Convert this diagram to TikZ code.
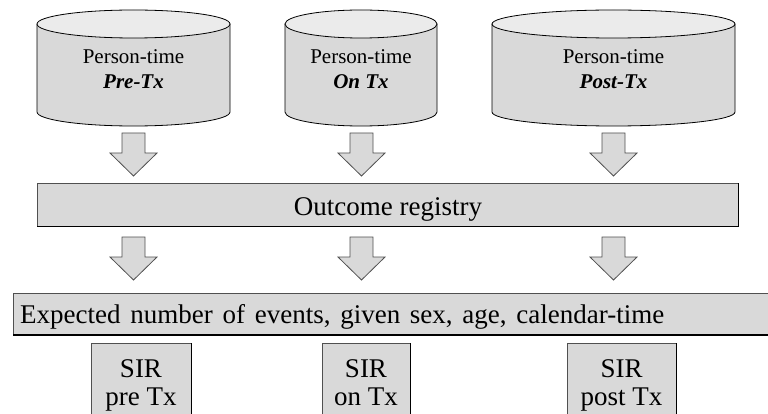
\documentclass[tikz,border=0pt]{standalone}
\usepackage{fontspec}
\setmainfont{Liberation Serif}
\definecolor{boxfill}{HTML}{D9D9D9}
\definecolor{topfill}{HTML}{EBEBEB}
\definecolor{edgegray}{HTML}{505050}
\tikzset{
  smalltxt/.style={inner sep=0pt, anchor=base, font=\fontsize{21}{24}\selectfont},
  bigtxt/.style={inner sep=0pt, anchor=base, font=\fontsize{27}{30}\selectfont},
  shapeline/.style={draw=black, line width=0.8pt, line join=round},
  arrowshape/.style={fill=boxfill, draw=edgegray, line width=0.8pt, line join=miter},
  boxshape/.style={fill=boxfill, draw=edgegray, line width=0.8pt},
}
\begin{document}
\begin{tikzpicture}[x=1pt,y=-1pt]
\useasboundingbox (0,0) rectangle (768,414);
\clip (0,0) rectangle (768,414);
\fill[white] (0,0) rectangle (768,414);

% cylinders
\foreach \cx/\rx/\nm/\lab in {133.5/96.5/pre/Pre-Tx, 361/76/on/On Tx, 613.5/121.5/post/Post-Tx}{
  \filldraw[fill=boxfill, shapeline] (\cx-\rx,24) -- (\cx-\rx,112)
     arc[start angle=180, end angle=360, x radius=\rx pt, y radius=14pt]
     -- (\cx+\rx,24) -- cycle;
  \filldraw[fill=topfill, shapeline] (\cx,24) ellipse[x radius=\rx pt, y radius=14pt];
  \node[smalltxt] (cyl\nm a) at (\cx,64) {Person-time};
  \node[smalltxt] (cyl\nm b) at (\cx,89) {\textbf{\textit{\lab}}};
}

% block arrows
\foreach \x in {133.5,361.5,613.5}{
  \foreach \t in {133,237}{
    \filldraw[arrowshape] (\x-11.5,\t) -- (\x+11.5,\t) -- (\x+11.5,\t+20)
      -- (\x+23.5,\t+20) -- (\x,\t+43) -- (\x-23.5,\t+20) -- (\x-11.5,\t+20) -- cycle;
  }
}

% outcome registry
\filldraw[boxshape] (37,183) rectangle (738,226);
\draw[black, line width=1pt] (37,226) -- (738,226) -- (738,183);
\node[bigtxt] (outcome) at (388,215) {Outcome registry};

% expected
\filldraw[boxshape] (13,293) rectangle (790,335);
\draw[black, line width=1.2pt] (13,335) -- (790,335);
\node[bigtxt, anchor=base west] (expected) at (20,323) {\spaceskip=0.36em Expected number of events, given sex, age, calendar-time};

% SIR boxes
\foreach \l/\r/\nm/\lab in {91/191/pre/pre Tx, 322/410/on/on Tx, 567/676/post/post Tx}{
  \filldraw[boxshape] (\l,343) rectangle (\r,430);
  \draw[black, line width=1pt] (\r,343) -- (\r,430);
  \node[bigtxt] (sir\nm a) at ({(\l+\r)/2},377) {SIR};
  \node[bigtxt] (sir\nm b) at ({(\l+\r)/2},405) {\lab};
}
\end{tikzpicture}
\end{document}
